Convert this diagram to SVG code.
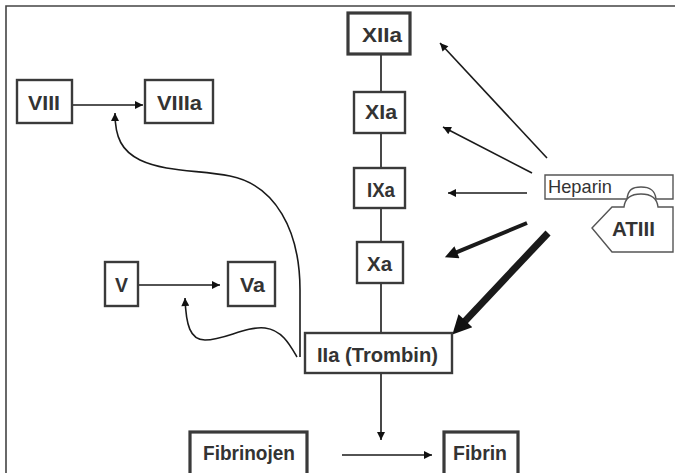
<svg xmlns="http://www.w3.org/2000/svg" width="675" height="473" viewBox="0 0 675 473">
<style>
.box{fill:#fff;stroke:#3a3a3a;stroke-width:2.4}
.lbl{font-family:"Liberation Sans",Arial,sans-serif;font-weight:bold;font-size:20px;fill:#333;text-anchor:middle}
.hep{font-family:"Liberation Sans",Arial,sans-serif;font-size:19px;fill:#333}
.ln{fill:none;stroke:#1a1a1a;stroke-width:1.6}
.frame{fill:none;stroke:#444;stroke-width:1.6}
</style>
<defs>
<marker id="ah" viewBox="0 0 10 10" refX="10" refY="5" markerWidth="11" markerHeight="8" markerUnits="userSpaceOnUse" orient="auto"><path d="M0,0 L10,5 L0,10 z" fill="#111"/></marker>
<marker id="ahm" viewBox="0 0 10 10" refX="3" refY="5" markerWidth="16" markerHeight="13" markerUnits="userSpaceOnUse" orient="auto"><path d="M0,0 L10,5 L0,10 z" fill="#111"/></marker>
<marker id="ahl" viewBox="0 0 10 10" refX="3" refY="5" markerWidth="24" markerHeight="19" markerUnits="userSpaceOnUse" orient="auto"><path d="M0,0 L10,5 L0,10 z" fill="#111"/></marker>
</defs>
<rect width="675" height="473" fill="#fff"/>
<path class="frame" d="M6,480 V6 H680"/>
<g id="connectors">
<line class="ln" x1="381" y1="54" x2="381" y2="92"/>
<line class="ln" x1="381" y1="133" x2="381" y2="168"/>
<line class="ln" x1="381" y1="208" x2="381" y2="242"/>
<line class="ln" x1="381" y1="283" x2="381" y2="333"/>
<line class="ln" x1="381" y1="373" x2="381" y2="440" marker-end="url(#ah)"/>
<line class="ln" x1="342" y1="455" x2="432" y2="455" marker-end="url(#ah)"/>
<line class="ln" x1="72" y1="105" x2="143" y2="105" marker-end="url(#ah)"/>
<line class="ln" x1="138" y1="285" x2="220" y2="285" marker-end="url(#ah)"/>
<path class="ln" d="M300,357 L300,290 C300,230 275,185 230,176 C200,170 165,172 140,160 C122,151 115,138 115,113" marker-end="url(#ah)"/>
<path class="ln" d="M297,357 C290,345 282,330 265,328 C245,326 225,340 205,340 C190,340 186,325 185,298" marker-end="url(#ah)"/>
<line class="ln" x1="547" y1="158" x2="440" y2="43" marker-end="url(#ah)"/>
<line class="ln" x1="532" y1="173" x2="443" y2="127" marker-end="url(#ah)"/>
<line class="ln" x1="527" y1="193" x2="448" y2="193" marker-end="url(#ah)"/>
<line class="ln" x1="527" y1="223" x2="453.3" y2="253.7" style="stroke-width:4" marker-end="url(#ahm)"/>
<line class="ln" x1="548" y1="233" x2="461.5" y2="324.8" style="stroke-width:7" marker-end="url(#ahl)"/>
</g>
<g id="VIII"><rect class="box" x="17" y="80" width="55" height="43"/><text class="lbl" x="44" y="110" textLength="32" lengthAdjust="spacingAndGlyphs">VIII</text></g>
<g id="VIIIa"><rect class="box" x="145" y="80" width="68" height="43"/><text class="lbl" x="179.5" y="110" textLength="45" lengthAdjust="spacingAndGlyphs">VIIIa</text></g>
<g id="V"><rect class="box" x="105" y="262" width="33" height="44"/><text class="lbl" x="121.5" y="292" textLength="13" lengthAdjust="spacingAndGlyphs">V</text></g>
<g id="Va"><rect class="box" x="228" y="262" width="47" height="44"/><text class="lbl" x="252.5" y="292" textLength="25" lengthAdjust="spacingAndGlyphs">Va</text></g>
<g id="XIIa"><rect class="box" x="348" y="13" width="62" height="41" style="stroke-width:3.2"/><text class="lbl" x="382" y="41.5" textLength="40" lengthAdjust="spacingAndGlyphs">XIIa</text></g>
<g id="XIa"><rect class="box" x="354" y="92" width="51" height="41"/><text class="lbl" x="381" y="118.5" textLength="32" lengthAdjust="spacingAndGlyphs">XIa</text></g>
<g id="IXa"><rect class="box" x="354" y="168" width="51" height="40"/><text class="lbl" x="381" y="197" textLength="28" lengthAdjust="spacingAndGlyphs">IXa</text></g>
<g id="Xa"><rect class="box" x="357" y="242" width="46" height="41"/><text class="lbl" x="379.5" y="270.5" textLength="25" lengthAdjust="spacingAndGlyphs">Xa</text></g>
<g id="IIa"><rect class="box" x="305" y="333" width="147" height="40"/><text class="lbl" x="377.5" y="362" textLength="121" lengthAdjust="spacingAndGlyphs">IIa (Trombin)</text></g>
<g id="Fibrinojen"><rect class="box" x="190" y="432" width="117" height="50" style="stroke-width:3.2"/><text class="lbl" x="249" y="460" textLength="92" lengthAdjust="spacingAndGlyphs">Fibrinojen</text></g>
<g id="Fibrin"><rect class="box" x="444" y="432" width="74" height="50" style="stroke-width:3.2"/><text class="lbl" x="480" y="460" textLength="54" lengthAdjust="spacingAndGlyphs">Fibrin</text></g>
<g id="Heparin"><path d="M545,175 H673 V199 H656 C655,190 650,187 641,187 C632,187 628,190 627,199 H545 Z" fill="#fff" stroke="#555" stroke-width="1.4"/><text class="hep" x="548" y="193" textLength="64" lengthAdjust="spacingAndGlyphs">Heparin</text></g>
<g id="ATIII"><path d="M592,228 L612,207 H624 C625,198 631,194 641,194 C651,194 657,198 658,207 H673 V252 H612 Z" fill="#fff" stroke="#555" stroke-width="1.4"/><text class="lbl" x="633.5" y="236" textLength="43" lengthAdjust="spacingAndGlyphs">ATIII</text></g>
</svg>
